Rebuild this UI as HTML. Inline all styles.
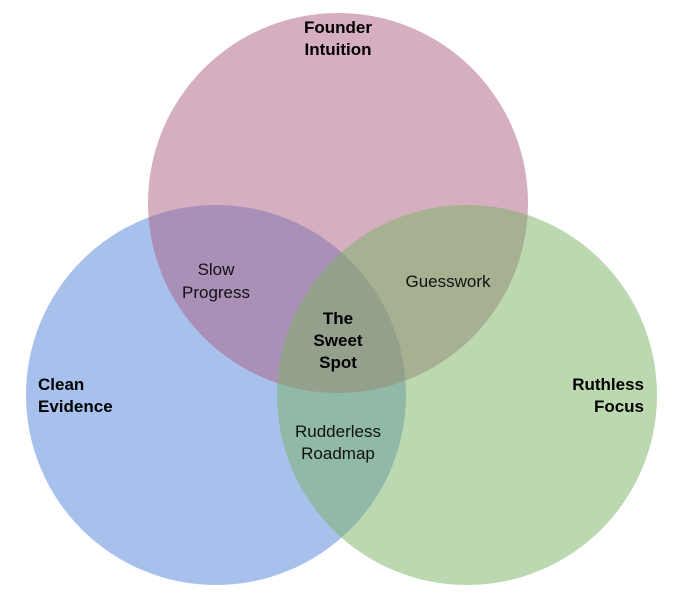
<!DOCTYPE html>
<html><head><meta charset="utf-8"><style>
html,body{margin:0;padding:0;background:#fff;}
svg{display:block;}
text{font-family:"Liberation Sans",Arial,sans-serif;font-size:17px;fill:#111;}
.b{font-weight:bold;fill:#000;}
</style></head><body>
<svg width="679" height="606" viewBox="0 0 679 606" xmlns="http://www.w3.org/2000/svg">
<rect width="679" height="606" fill="#fff"/>
<circle cx="216" cy="395" r="190" fill="#5183d9" fill-opacity="0.5"/>
<circle cx="338" cy="203" r="190" fill="#ab5d81" fill-opacity="0.5"/>
<circle cx="467" cy="395" r="190" fill="#79b161" fill-opacity="0.5"/>
<text class="b" x="338" y="33" text-anchor="middle">Founder</text>
<text class="b" x="338" y="55" text-anchor="middle">Intuition</text>
<text class="b" x="38" y="390">Clean</text>
<text class="b" x="38" y="412">Evidence</text>
<text class="b" x="644" y="390" text-anchor="end">Ruthless</text>
<text class="b" x="644" y="412" text-anchor="end">Focus</text>
<text x="216" y="275" text-anchor="middle">Slow</text>
<text x="216" y="298" text-anchor="middle">Progress</text>
<text x="448" y="287" text-anchor="middle">Guesswork</text>
<text class="b" x="338" y="324" text-anchor="middle">The</text>
<text class="b" x="338" y="346" text-anchor="middle">Sweet</text>
<text class="b" x="338" y="368" text-anchor="middle">Spot</text>
<text x="338" y="437" text-anchor="middle">Rudderless</text>
<text x="338" y="459" text-anchor="middle">Roadmap</text>
</svg>
</body></html>
